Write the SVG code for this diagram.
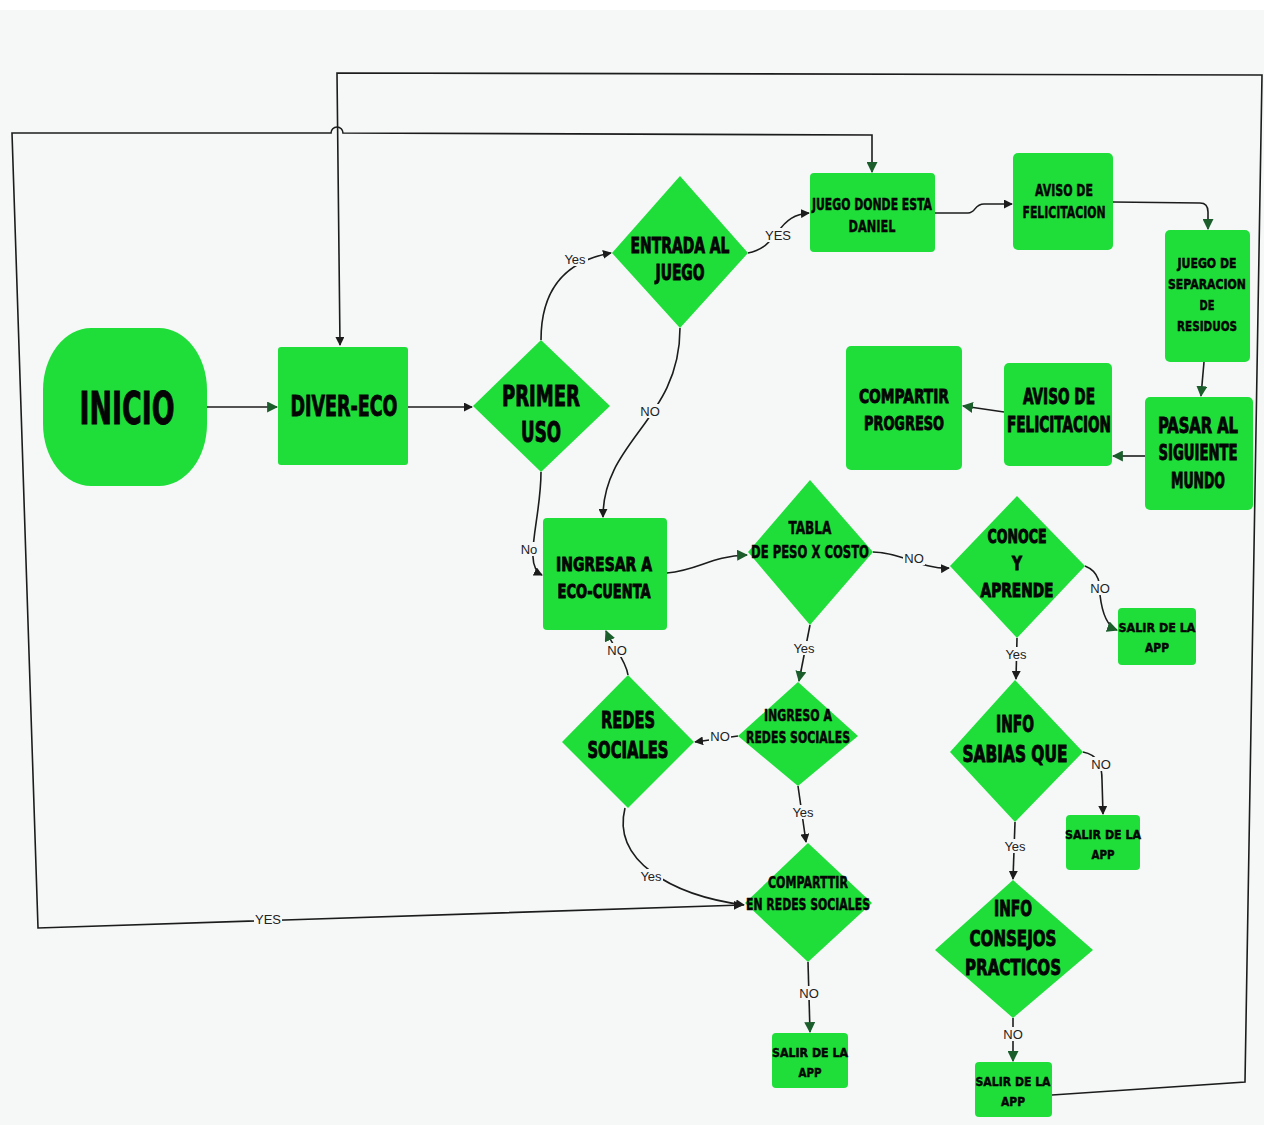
<svg xmlns="http://www.w3.org/2000/svg" width="1264" height="1125" viewBox="0 0 1264 1125">
<style>
.n{fill:#1fde3a}
.t{font-family:"DejaVu Sans Condensed","Liberation Sans Narrow","Liberation Sans",sans-serif;font-weight:bold;fill:#050505;stroke:#050505;stroke-width:0.9;text-anchor:middle}
.s{stroke-width:0.45}
.c{fill:none;stroke:#1c1c1c;stroke-width:1.6}
.l{font-family:"Liberation Sans",Arial,sans-serif;font-size:13px;fill:#222;text-anchor:middle}
.lb{fill:#f6f8f8}
</style>
<defs>
<marker id="ab" viewBox="0 0 10 10" refX="9" refY="5" markerWidth="9" markerHeight="9" markerUnits="userSpaceOnUse" orient="auto-start-reverse"><path d="M0,0 L10,5 L0,10 Z" fill="#1c1c1c"/></marker>
<marker id="ag" viewBox="0 0 10 10" refX="9" refY="5" markerWidth="11" markerHeight="11" markerUnits="userSpaceOnUse" orient="auto-start-reverse"><path d="M0,0 L10,5 L0,10 Z" fill="#1b5e2c"/></marker>
</defs>
<rect x="0" y="0" width="1264" height="1125" fill="#f6f8f8"/>
<rect x="0" y="0" width="1264" height="10" fill="#ffffff"/>

<g id="connectors">
<path class="c" d="M742,905 L38,928 L12,133 L331,133 A6,6 0 0 1 343,133 L872,135 L872,172" marker-start="url(#ab)" marker-end="url(#ag)"/>
<rect class="lb" x="254" y="912" width="28" height="14"/>
<text class="l" x="268" y="924">YES</text>
<path class="c" d="M1052,1095 L1245,1082 L1262,75 L337,73 L340,345" marker-end="url(#ab)"/>
<path class="c" d="M207,407 L277,407" marker-end="url(#ag)"/>
<path class="c" d="M408,407 L472,407" marker-end="url(#ab)"/>
<path class="c" d="M541,340 C541,295 560,262 611,253" marker-end="url(#ab)"/>
<rect class="lb" x="562" y="252" width="26" height="14"/>
<text class="l" x="575" y="264">Yes</text>
<path class="c" d="M748,253 C765,250 770,240 778,232 C786,220 795,214 809,213" marker-end="url(#ab)"/>
<rect class="lb" x="764" y="228" width="28" height="14"/>
<text class="l" x="778" y="240">YES</text>
<path class="c" d="M680,328 C680,420 603,440 603,517" marker-end="url(#ab)"/>
<rect class="lb" x="639" y="404" width="22" height="14"/>
<text class="l" x="650" y="416">NO</text>
<path class="c" d="M541,472 C541,520 522,565 542,575" marker-end="url(#ab)"/>
<rect class="lb" x="518" y="542" width="22" height="14"/>
<text class="l" x="529" y="554">No</text>
<path class="c" d="M935,213 L968,213 C976,213 974,204 984,204 L1012,204" marker-end="url(#ab)"/>
<path class="c" d="M1113,202 L1200,203 Q1208,203 1208,212 L1208,229" marker-end="url(#ag)"/>
<path class="c" d="M1204,362 L1201,396" marker-end="url(#ag)"/>
<path class="c" d="M1145,456 L1113,456" marker-end="url(#ag)"/>
<path class="c" d="M1004,412 L963,406" stroke="#1b5e2c" stroke-width="2.5" marker-end="url(#ag)"/>
<path class="c" d="M667,573 C700,570 710,556 747,555" marker-end="url(#ag)"/>
<path class="c" d="M873,552 C900,552 925,570 949,568" marker-end="url(#ab)"/>
<rect class="lb" x="903" y="551" width="22" height="14"/>
<text class="l" x="914" y="563">NO</text>
<path class="c" d="M1085,566 C1100,572 1100,585 1100,595 C1102,612 1106,626 1117,630" marker-end="url(#ag)"/>
<rect class="lb" x="1089" y="581" width="22" height="14"/>
<text class="l" x="1100" y="593">NO</text>
<path class="c" d="M1017,638 L1016,679" marker-end="url(#ab)"/>
<rect class="lb" x="1003" y="647" width="26" height="14"/>
<text class="l" x="1016" y="659">Yes</text>
<path class="c" d="M810,625 L799,681" marker-end="url(#ag)"/>
<rect class="lb" x="791" y="641" width="26" height="14"/>
<text class="l" x="804" y="653">Yes</text>
<path class="c" d="M628,675 C626,660 612,645 606,631" marker-end="url(#ag)"/>
<rect class="lb" x="606" y="643" width="22" height="14"/>
<text class="l" x="617" y="655">NO</text>
<path class="c" d="M738,736 L695,742" marker-end="url(#ab)"/>
<rect class="lb" x="709" y="729" width="22" height="14"/>
<text class="l" x="720" y="741">NO</text>
<path class="c" d="M798,786 L806,842" marker-end="url(#ab)"/>
<rect class="lb" x="790" y="805" width="26" height="14"/>
<text class="l" x="803" y="817">Yes</text>
<path class="c" d="M625,808 C612,860 670,895 744,905" marker-end="url(#ab)"/>
<rect class="lb" x="639" y="869" width="24" height="14"/>
<text class="l" x="651" y="881">Yes</text>
<path class="c" d="M1083,752 C1098,755 1102,765 1102,780 L1103,814" marker-end="url(#ab)"/>
<rect class="lb" x="1090" y="757" width="22" height="14"/>
<text class="l" x="1101" y="769">NO</text>
<path class="c" d="M1015,822 L1013,879" marker-end="url(#ab)"/>
<rect class="lb" x="1002" y="839" width="26" height="14"/>
<text class="l" x="1015" y="851">Yes</text>
<path class="c" d="M808,962 L810,1032" marker-end="url(#ag)"/>
<rect class="lb" x="798" y="986" width="22" height="14"/>
<text class="l" x="809" y="998">NO</text>
<path class="c" d="M1013,1018 L1013,1061" marker-end="url(#ag)"/>
<rect class="lb" x="1002" y="1027" width="22" height="14"/>
<text class="l" x="1013" y="1039">NO</text>
</g>

<g id="inicio"><rect class="n" x="43" y="328" width="164" height="158" rx="48" ry="62"/>
<g transform="matrix(0.75,0,0,1,31.75,0)"><text class="t" x="127" y="424" font-size="44" textLength="126.7" lengthAdjust="spacingAndGlyphs">INICIO</text></g></g>

<g id="diver-eco"><rect class="n" x="278" y="347" width="130" height="118" rx="3"/>
<g transform="matrix(0.75,0,0,1,86,0)"><text class="t" x="344" y="416" font-size="29" textLength="142.7" lengthAdjust="spacingAndGlyphs">DIVER-ECO</text></g></g>

<g id="primer-uso"><polygon class="n" points="541,340 610,406 541,472 473,406"/>
<g transform="matrix(0.75,0,0,1,135.25,0)">
<text class="t" x="541" y="406" font-size="28" textLength="104" lengthAdjust="spacingAndGlyphs">PRIMER</text>
<text class="t" x="541" y="442" font-size="28" textLength="53.3" lengthAdjust="spacingAndGlyphs">USO</text></g></g>

<g id="entrada-juego"><polygon class="n" points="680,176 748,253 680,328 612,253"/>
<g transform="matrix(0.75,0,0,1,170,0)">
<text class="t" x="680" y="253" font-size="21" textLength="132" lengthAdjust="spacingAndGlyphs">ENTRADA AL</text>
<text class="t" x="680" y="280" font-size="21" textLength="65.3" lengthAdjust="spacingAndGlyphs">JUEGO</text></g></g>

<g id="juego-daniel"><rect class="n" x="810" y="173" width="125" height="79" rx="4"/>
<g transform="matrix(0.75,0,0,1,218,0)">
<text class="t s" x="872" y="210" font-size="15" textLength="160" lengthAdjust="spacingAndGlyphs">JUEGO DONDE ESTA</text>
<text class="t s" x="872" y="232" font-size="15" textLength="62.7" lengthAdjust="spacingAndGlyphs">DANIEL</text></g></g>

<g id="aviso-1"><rect class="n" x="1013" y="153" width="100" height="97" rx="5"/>
<g transform="matrix(0.75,0,0,1,266,0)">
<text class="t s" x="1064" y="196" font-size="16" textLength="77.3" lengthAdjust="spacingAndGlyphs">AVISO DE</text>
<text class="t s" x="1064" y="218" font-size="16" textLength="110.7" lengthAdjust="spacingAndGlyphs">FELICITACION</text></g></g>

<g id="juego-separacion"><rect class="n" x="1165" y="230" width="85" height="132" rx="5"/>
<g transform="matrix(0.75,0,0,1,301.75,0)">
<text class="t s" x="1207" y="268" font-size="14" textLength="78.7" lengthAdjust="spacingAndGlyphs">JUEGO DE</text>
<text class="t s" x="1207" y="289" font-size="14" textLength="104" lengthAdjust="spacingAndGlyphs">SEPARACION</text>
<text class="t s" x="1207" y="310" font-size="14" textLength="20" lengthAdjust="spacingAndGlyphs">DE</text>
<text class="t s" x="1207" y="331" font-size="14" textLength="80" lengthAdjust="spacingAndGlyphs">RESIDUOS</text></g></g>

<g id="pasar-mundo"><rect class="n" x="1145" y="397" width="108" height="113" rx="5"/>
<g transform="matrix(0.75,0,0,1,299.5,0)">
<text class="t" x="1198" y="433" font-size="21" textLength="106.7" lengthAdjust="spacingAndGlyphs">PASAR AL</text>
<text class="t" x="1198" y="460" font-size="21" textLength="105.3" lengthAdjust="spacingAndGlyphs">SIGUIENTE</text>
<text class="t" x="1198" y="488" font-size="21" textLength="72" lengthAdjust="spacingAndGlyphs">MUNDO</text></g></g>

<g id="aviso-2"><rect class="n" x="1004" y="363" width="108" height="103" rx="5"/>
<g transform="matrix(0.75,0,0,1,264.75,0)">
<text class="t" x="1059" y="404" font-size="21" textLength="96" lengthAdjust="spacingAndGlyphs">AVISO DE</text>
<text class="t" x="1059" y="432" font-size="21" textLength="138.7" lengthAdjust="spacingAndGlyphs">FELICITACION</text></g></g>

<g id="compartir-progreso"><rect class="n" x="846" y="346" width="116" height="124" rx="5"/>
<g transform="matrix(0.75,0,0,1,226,0)">
<text class="t" x="904" y="403" font-size="20" textLength="120" lengthAdjust="spacingAndGlyphs">COMPARTIR</text>
<text class="t" x="904" y="430" font-size="20" textLength="106.7" lengthAdjust="spacingAndGlyphs">PROGRESO</text></g></g>

<g id="ingresar-eco-cuenta"><rect class="n" x="543" y="518" width="124" height="112" rx="4"/>
<g transform="matrix(0.75,0,0,1,151,0)">
<text class="t" x="604" y="571" font-size="20" textLength="128" lengthAdjust="spacingAndGlyphs">INGRESAR A</text>
<text class="t" x="604" y="598" font-size="20" textLength="124" lengthAdjust="spacingAndGlyphs">ECO-CUENTA</text></g></g>

<g id="tabla-peso"><polygon class="n" points="810,480 873,552 810,625 748,552"/>
<g transform="matrix(0.75,0,0,1,202.5,0)">
<text class="t s" x="810" y="534" font-size="17" textLength="57.3" lengthAdjust="spacingAndGlyphs">TABLA</text>
<text class="t s" x="810" y="558" font-size="17" textLength="157.3" lengthAdjust="spacingAndGlyphs">DE PESO X COSTO</text></g></g>

<g id="conoce-aprende"><polygon class="n" points="1017,496 1085,566 1017,638 950,566"/>
<g transform="matrix(0.75,0,0,1,254.25,0)">
<text class="t" x="1017" y="543" font-size="19" textLength="78.7" lengthAdjust="spacingAndGlyphs">CONOCE</text>
<text class="t" x="1017" y="570" font-size="19" textLength="13.3" lengthAdjust="spacingAndGlyphs">Y</text>
<text class="t" x="1017" y="597" font-size="19" textLength="97.3" lengthAdjust="spacingAndGlyphs">APRENDE</text></g></g>

<g id="salir-1"><rect class="n" x="1118" y="608" width="78" height="57" rx="4"/>
<g transform="matrix(0.75,0,0,1,289.25,0)">
<text class="t s" x="1157" y="632" font-size="13" textLength="102.7" lengthAdjust="spacingAndGlyphs">SALIR  DE LA</text>
<text class="t s" x="1157" y="652" font-size="13" textLength="32" lengthAdjust="spacingAndGlyphs">APP</text></g></g>

<g id="redes-sociales"><polygon class="n" points="628,675 694,742 628,808 562,742"/>
<g transform="matrix(0.75,0,0,1,157,0)">
<text class="t" x="628" y="728" font-size="23" textLength="72" lengthAdjust="spacingAndGlyphs">REDES</text>
<text class="t" x="628" y="758" font-size="23" textLength="108" lengthAdjust="spacingAndGlyphs">SOCIALES</text></g></g>

<g id="ingreso-redes"><polygon class="n" points="798,682 858,736 798,786 738,736"/>
<g transform="matrix(0.75,0,0,1,199.5,0)">
<text class="t s" x="798" y="721" font-size="15" textLength="90.7" lengthAdjust="spacingAndGlyphs">INGRESO A</text>
<text class="t s" x="798" y="743" font-size="15" textLength="138.7" lengthAdjust="spacingAndGlyphs">REDES SOCIALES</text></g></g>

<g id="info-sabias"><polygon class="n" points="1015,680 1083,752 1015,822 950,752"/>
<g transform="matrix(0.75,0,0,1,253.75,0)">
<text class="t" x="1015" y="732" font-size="23" textLength="50.7" lengthAdjust="spacingAndGlyphs">INFO</text>
<text class="t" x="1015" y="762" font-size="23" textLength="140" lengthAdjust="spacingAndGlyphs">SABIAS QUE</text></g></g>

<g id="salir-2"><rect class="n" x="1066" y="815" width="74" height="55" rx="4"/>
<g transform="matrix(0.75,0,0,1,275.75,0)">
<text class="t s" x="1103" y="839" font-size="13" textLength="101.3" lengthAdjust="spacingAndGlyphs">SALIR  DE LA</text>
<text class="t s" x="1103" y="859" font-size="13" textLength="30.7" lengthAdjust="spacingAndGlyphs">APP</text></g></g>

<g id="compartir-redes"><polygon class="n" points="808,843 872,903 808,962 745,903"/>
<g transform="matrix(0.75,0,0,1,202,0)">
<text class="t s" x="808" y="888" font-size="15" textLength="106.7" lengthAdjust="spacingAndGlyphs">COMPARTTIR</text>
<text class="t s" x="808" y="910" font-size="15" textLength="165.3" lengthAdjust="spacingAndGlyphs">EN REDES SOCIALES</text></g></g>

<g id="info-consejos"><polygon class="n" points="1013,880 1093,950 1013,1018 935,950"/>
<g transform="matrix(0.75,0,0,1,253.25,0)">
<text class="t" x="1013" y="916" font-size="22" textLength="50.7" lengthAdjust="spacingAndGlyphs">INFO</text>
<text class="t" x="1013" y="946" font-size="22" textLength="116" lengthAdjust="spacingAndGlyphs">CONSEJOS</text>
<text class="t" x="1013" y="975" font-size="22" textLength="128" lengthAdjust="spacingAndGlyphs">PRACTICOS</text></g></g>

<g id="salir-3"><rect class="n" x="772" y="1033" width="76" height="55" rx="4"/>
<g transform="matrix(0.75,0,0,1,202.5,0)">
<text class="t s" x="810" y="1057" font-size="13" textLength="101.3" lengthAdjust="spacingAndGlyphs">SALIR  DE LA</text>
<text class="t s" x="810" y="1077" font-size="13" textLength="30.7" lengthAdjust="spacingAndGlyphs">APP</text></g></g>

<g id="salir-4"><rect class="n" x="975" y="1062" width="77" height="55" rx="4"/>
<g transform="matrix(0.75,0,0,1,253.25,0)">
<text class="t s" x="1013" y="1086" font-size="13" textLength="100" lengthAdjust="spacingAndGlyphs">SALIR  DE LA</text>
<text class="t s" x="1013" y="1106" font-size="13" textLength="32" lengthAdjust="spacingAndGlyphs">APP</text></g></g>
</svg>
